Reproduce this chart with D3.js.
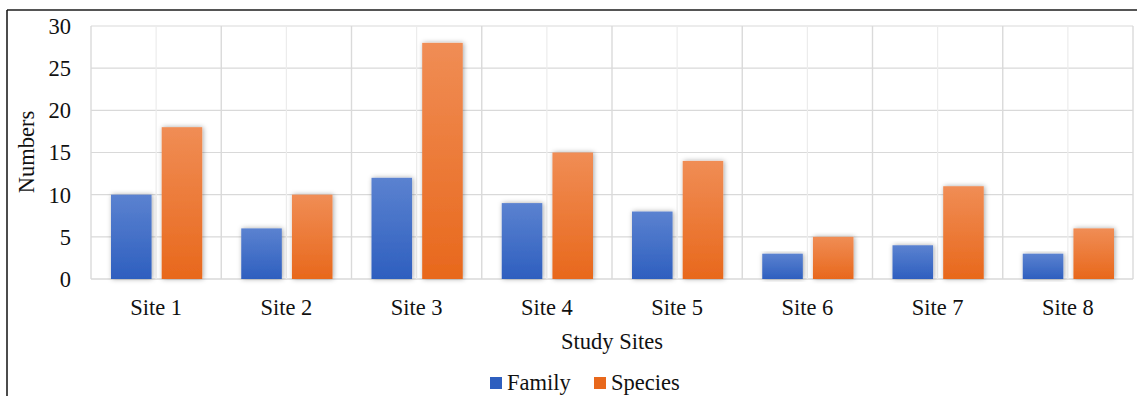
<!DOCTYPE html>
<html>
<head>
<meta charset="utf-8">
<script src="https://cdn.jsdelivr.net/npm/d3@7"></script>
<style>
  body { margin: 0; background: #fff; }
  text { font-family: "Liberation Serif", "Times New Roman", serif; fill: #111; }
</style>
</head>
<body>
<svg id="chart" width="1137" height="396"></svg>
<script>
const sites = ["Site 1", "Site 2", "Site 3", "Site 4", "Site 5", "Site 6", "Site 7", "Site 8"];
const family = [10, 6, 12, 9, 8, 3, 4, 3];
const species = [18, 10, 28, 15, 14, 5, 11, 6];
const yTicks = [0, 5, 10, 15, 20, 25, 30];
const seriesNames = ["Family", "Species"];

const svg = d3.select("#chart");
const plotLeft = 91, plotRight = 1133, plotTop = 26, plotBottom = 279;
const fontSize = 22.5;

// colours: [top, bottom] of the gradient
const colors = {
  Family: ["#5b82d0", "#2e5fbf"],
  Species: ["#f08d55", "#e8681c"],
};

const defs = svg.append("defs");
seriesNames.forEach((name) => {
  const g = defs.append("linearGradient")
    .attr("id", "grad-" + name)
    .attr("x1", 0).attr("y1", 0).attr("x2", 0).attr("y2", 1);
  g.append("stop").attr("offset", "0%").attr("stop-color", colors[name][0]);
  g.append("stop").attr("offset", "100%").attr("stop-color", colors[name][1]);
});
const shadow = defs.append("filter").attr("id", "shadow")
  .attr("x", "-30%").attr("y", "-10%").attr("width", "160%").attr("height", "120%");
shadow.append("feDropShadow")
  .attr("dx", 1).attr("dy", 0).attr("stdDeviation", 2.5)
  .attr("flood-color", "#000").attr("flood-opacity", 0.35);

const x = d3.scaleBand().domain(sites).range([plotLeft, plotRight]);
const xs = d3.scaleBand().domain(seriesNames).range([20, x.bandwidth() - 19]).paddingInner(0.2);
const y = d3.scaleLinear().domain([0, 30]).range([plotBottom, plotTop]);

// horizontal gridlines
svg.append("g")
  .selectAll("line")
  .data(yTicks)
  .join("line")
  .attr("x1", plotLeft).attr("x2", plotRight)
  .attr("y1", (d) => y(d)).attr("y2", (d) => y(d))
  .attr("stroke", "#d9d9d9")
  .attr("stroke-width", (d) => (d === 0 ? 1.5 : 1.2));

// vertical gridlines: faint at category centres, stronger at boundaries
svg.append("g")
  .selectAll("line")
  .data(sites)
  .join("line")
  .attr("x1", (d) => x(d) + x.bandwidth() / 2)
  .attr("x2", (d) => x(d) + x.bandwidth() / 2)
  .attr("y1", plotTop).attr("y2", plotBottom)
  .attr("stroke", "#ececec")
  .attr("stroke-width", 1.2);

svg.append("g")
  .selectAll("line")
  .data(sites.concat(["end"]))
  .join("line")
  .attr("x1", (d, i) => (i < sites.length ? x(d) : plotRight))
  .attr("x2", (d, i) => (i < sites.length ? x(d) : plotRight))
  .attr("y1", plotTop).attr("y2", plotBottom)
  .attr("stroke", "#dadada")
  .attr("stroke-width", 1.4);

// bars
const rows = sites.map((s, i) => ({ site: s, Family: family[i], Species: species[i] }));
svg.append("g")
  .selectAll("g")
  .data(rows)
  .join("g")
  .attr("transform", (d) => `translate(${x(d.site)},0)`)
  .selectAll("rect")
  .data((d) => seriesNames.map((k) => ({ key: k, value: d[k] })))
  .join("rect")
  .attr("x", (d) => xs(d.key))
  .attr("width", xs.bandwidth())
  .attr("y", (d) => y(d.value))
  .attr("height", (d) => y(0) - y(d.value))
  .attr("fill", (d) => `url(#grad-${d.key})`)
  .attr("filter", "url(#shadow)");

// y tick labels
svg.append("g")
  .selectAll("text")
  .data(yTicks)
  .join("text")
  .attr("x", 71)
  .attr("y", (d) => y(d))
  .attr("dy", "0.35em")
  .attr("text-anchor", "end")
  .attr("font-size", fontSize)
  .text((d) => d);

// x tick labels
svg.append("g")
  .selectAll("text")
  .data(sites)
  .join("text")
  .attr("x", (d) => x(d) + x.bandwidth() / 2)
  .attr("y", 315)
  .attr("text-anchor", "middle")
  .attr("font-size", fontSize)
  .text((d) => d);

// axis titles
svg.append("text")
  .attr("x", 612).attr("y", 349)
  .attr("text-anchor", "middle")
  .attr("font-size", fontSize)
  .text("Study Sites");

svg.append("text")
  .attr("transform", "translate(34,152) rotate(-90)")
  .attr("text-anchor", "middle")
  .attr("font-size", fontSize)
  .text("Numbers");

// legend
const legendX = [490, 594];
const legend = svg.append("g")
  .selectAll("g")
  .data(seriesNames)
  .join("g")
  .attr("transform", (d, i) => `translate(${legendX[i]},0)`);
legend.append("rect")
  .attr("x", 0).attr("y", 377)
  .attr("width", 12).attr("height", 12)
  .attr("fill", (d) => colors[d][1]);
legend.append("text")
  .attr("x", 17).attr("y", 390)
  .attr("font-size", fontSize)
  .text((d) => d);

// outer frame (top and left edges visible)
svg.append("line")
  .attr("x1", 7).attr("x2", 1137).attr("y1", 10).attr("y2", 10)
  .attr("stroke", "#555").attr("stroke-width", 2);
svg.append("line")
  .attr("x1", 7).attr("x2", 7).attr("y1", 10).attr("y2", 396)
  .attr("stroke", "#111").attr("stroke-width", 1.5);
</script>
</body>
</html>
